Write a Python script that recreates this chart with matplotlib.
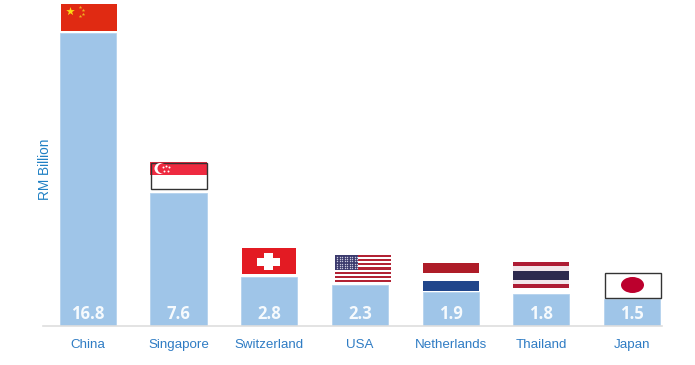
#Top destinations bar chart with flags above the bars

import numpy as np
import matplotlib.pyplot as plt
from matplotlib.patches import Rectangle, Circle, Ellipse

countries = ['China','Singapore','Switzerland','USA','Netherlands','Thailand','Japan']
values = [16.8,7.6,2.8,2.3,1.9,1.8,1.5]
value_labels = ['16.8','7.6','2.8','2.3','1.9','1.8','1.5']

W,H = 695,365
BLUE = '#2f7cc4'

fig = plt.figure(figsize=(W/100,H/100),dpi=100)

#main axes, placed in pixels
left,right,base,top = 43,662,325.5,0
ax = fig.add_axes([left/W,1-base/H,(right-left)/W,(base-top)/H])
xpos = np.arange(len(countries))
ax.bar(xpos,values,width=0.62,color='#9fc5e8',edgecolor='#b4d2ee',linewidth=0.6)
ax.set_xlim(-0.495,6.33)
ax.set_ylim(0,(base-top)/17.4)
ax.set_yticks([])
ax.set_xticks(xpos)
ax.set_xticklabels(countries,fontfamily='Liberation Sans',fontsize=9.6,color=BLUE)
ax.tick_params(axis='x',length=0,pad=10)
for s in ['top','left','right']:
    ax.spines[s].set_visible(False)
ax.spines['bottom'].set_color('#dedede')
ax.spines['bottom'].set_linewidth(1.2)

for i,txt in enumerate(value_labels):
    ax.annotate(txt,(xpos[i],0),textcoords='offset points',xytext=(0,5),ha='center',
                fontfamily='Open Sans',fontweight='bold',fontsize=12,color='#f6fafd')

fig.text(45/W,1-169/H,'RM Billion',rotation=90,ha='center',va='center',
         fontfamily='Liberation Sans',fontsize=9.8,color='#1f80c4')

#overlay in pixel coords for the flags
fl = fig.add_axes([0,0,1,1],facecolor='none')
fl.set_xlim(0,W)
fl.set_ylim(H,0)
fl.axis('off')

def rect(x0,y0,x1,y1,c,**kw):
    fl.add_patch(Rectangle((x0,y0),x1-x0,y1-y0,facecolor=c,edgecolor='none',**kw))

#China
rect(61,4,117,31,'#e02a12')
fl.scatter([70],[10.5],marker='*',s=42,color='#fbdc14',linewidths=0)
fl.scatter([79.5,83,83,79.5],[6.5,9.5,13.5,16],marker='*',s=7,color='#f0b020',linewidths=0)

#Singapore
rect(150,162,207,175,'#ee2a40')
fl.add_patch(Rectangle((150.5,162.5),56,26,facecolor='none',edgecolor='#333333',lw=1))
fl.add_patch(Ellipse((160,168.5),11,11,color='white',lw=0))
fl.add_patch(Ellipse((162.5,168.5),10,10,color='#ee2a40',lw=0))
fl.scatter([163,166,169,164,168],[167,165.5,167,170.5,170.5],s=2,color='white',linewidths=0)

#Switzerland
rect(242,248,296,274,'#e31b23')
rect(257,257.5,280,265.5,'white')
rect(264,253,273,270,'white')

#USA
for k in range(13):
    y0 = 255+k*27/13
    rect(335,y0,391,y0+27/13,'#b22234' if k%2==0 else 'white')
rect(335,255,358,270,'#3c3b6e')
sx,sy = np.meshgrid(np.arange(337,358,2.5),np.arange(256.5,270,2.4))
fl.scatter(sx.ravel(),sy.ravel(),s=1.0,color='#c8c8dc',linewidths=0)

#Netherlands
rect(423,263,479,272.5,'#ae1c28')
rect(423,281,479,290.5,'#21468b')

#Thailand
rect(513,262,569,266,'#ae1c34')
rect(513,266,569,270.5,'#f2e6ea')
rect(513,270.5,569,280,'#2d2a4e')
rect(513,280,569,284,'#f2e6ea')
rect(513,284,569,288,'#ae1c34')

#Japan
fl.add_patch(Rectangle((604.5,272.5),56,25,facecolor='white',edgecolor='#333333',lw=1))
fl.add_patch(Ellipse((632.5,285),23,16,color='#bc002d',lw=0))

plt.savefig('out.png',dpi=100)
